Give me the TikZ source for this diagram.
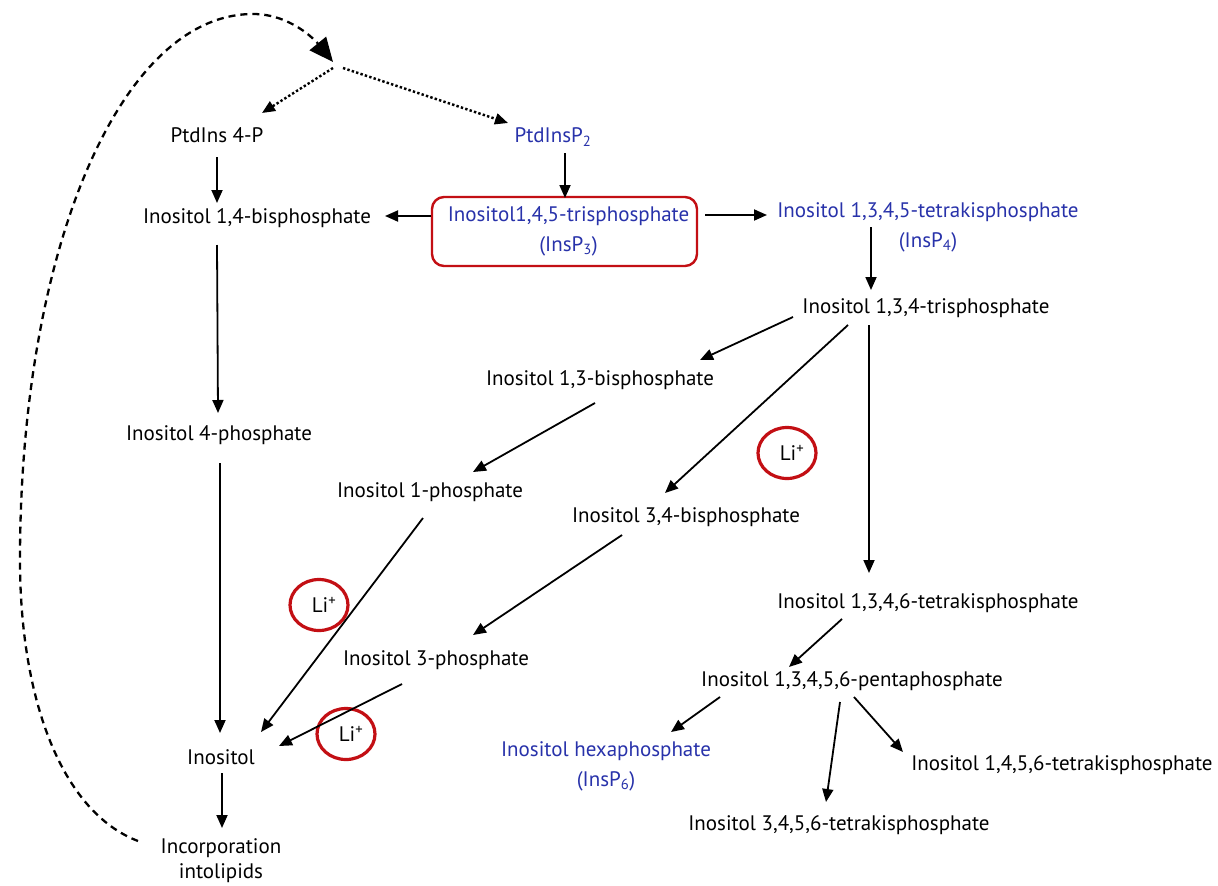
\documentclass[tikz,border=0pt]{standalone}
\usepackage{fontspec}
\setmainfont{PT Sans}
\usetikzlibrary{arrows.meta,shapes.geometric}
\definecolor{ib}{RGB}{40,50,170}
\definecolor{lr}{RGB}{195,15,20}
\newcommand\fsz{\fontsize{21}{30}\selectfont}
\tikzset{
  lbl/.style={inner sep=0pt, font=\fsz, text=black, align=center},
  blu/.style={lbl, text=ib},
  arr/.style={line width=1.8pt, -{Triangle[length=13pt,width=11pt]}},
  dotarr/.style={line width=2.4pt, dash pattern=on 2.4pt off 2.2pt, -{Triangle[length=13pt,width=11pt]}},
  dasharr/.style={line width=2.3pt, dash pattern=on 7pt off 5pt, -{Triangle[length=24pt,width=21pt]}},
  licirc/.style={ellipse, draw=lr, line width=3.2pt, minimum width=58pt, minimum height=51pt, inner sep=0pt, font=\fsz},
  ipbox/.style={draw=lr, line width=2.4pt, rounded corners=12pt, minimum width=265pt, minimum height=69pt, inner sep=0pt, font=\fsz, text=ib, align=center}
}
\begin{document}
\begin{tikzpicture}[x=1pt,y=-1pt]
\useasboundingbox (0,0) rectangle (1218,886);
\fill[white] (0,0) rectangle (1218,886);

% nodes
\node[lbl] (p4) at (217,135) {PtdIns 4-P};
\node[blu] (p2) at (553,137) {PtdInsP\textsubscript{2}};
\node[lbl] (b14) at (257,218) {Inositol 1,4-bisphosphate};
\node[ipbox] (ip3) at (564.5,231.5) {\hspace*{8pt}Inositol1,4,5-trisphosphate\\\hspace*{8pt}(InsP\textsubscript{3})};
\node[blu] (t1345) at (928,227) {Inositol 1,3,4,5-tetrakisphosphate\\(InsP\textsubscript{4})};
\node[lbl] (t134) at (926,308) {Inositol 1,3,4-trisphosphate};
\node[lbl] (b13) at (600,380) {Inositol 1,3-bisphosphate};
\node[lbl] (m4) at (219,435) {Inositol 4-phosphate};
\node[lbl] (m1) at (430,492) {Inositol 1-phosphate};
\node[lbl] (b34) at (686,517) {Inositol 3,4-bisphosphate};
\node[licirc] (li1) at (787,453) {\hspace*{10pt}Li\textsuperscript{+}};
\node[licirc] (li2) at (319,605) {\hspace*{10pt}Li\textsuperscript{+}};
\node[licirc] (li3) at (346,734) {\hspace*{10pt}Li\textsuperscript{+}};
\node[lbl] (t1346) at (928,603) {Inositol 1,3,4,6-tetrakisphosphate};
\node[lbl] (m3) at (436,660) {Inositol 3-phosphate};
\node[lbl] (penta) at (852,681) {Inositol 1,3,4,5,6-pentaphosphate};
\node[lbl] (ino) at (221,757) {Inositol};
\node[blu] (hexa) at (606,766) {Inositol hexaphosphate\\(InsP\textsubscript{6})};
\node[lbl] (t1456) at (1062,765) {Inositol 1,4,5,6-tetrakisphosphate};
\node[lbl] (t3456) at (839,825) {Inositol 3,4,5,6-tetrakisphosphate};
\node[lbl, font=\fontsize{21}{25}\selectfont] (inc) at (221,861) {Incorporation\\intolipids};
\coordinate (top) at (333,62);
\coordinate (jl) at (333,68);
\coordinate (jr) at (343,68);

% solid arrows
\draw[arr] ([shift={(0,22)}]p4.center) -- ([shift={(-40,-15)}]b14.center);
\draw[arr] ([shift={(12,16)}]p2.center) -- ([shift={(0.5,-33.5)}]ip3.center);
\draw[arr] ([shift={(-133.5,-15.5)}]ip3.center) -- ([shift={(128,-2)}]b14.center);
\draw[arr] ([shift={(140.5,-16.5)}]ip3.center) -- ([shift={(-161,-12)}]t1345.center);
\draw[arr] ([shift={(-57,0)}]t1345.center) -- ([shift={(-55,-18)}]t134.center);
\draw[arr] ([shift={(-133,9)}]t134.center) -- ([shift={(100,-20)}]b13.center);
\draw[arr] ([shift={(-78,17)}]t134.center) -- ([shift={(-21,-24)}]b34.center);
\draw[arr] ([shift={(-57,17)}]t134.center) -- ([shift={(-59,-30)}]t1346.center);
\draw[arr] ([shift={(-40,27)}]b14.center) -- ([shift={(-1,-22)}]m4.center);
\draw[arr] ([shift={(1,28)}]m4.center) -- ([shift={(-1,-24)}]ino.center);
\draw[arr] ([shift={(-5,23)}]b13.center) -- ([shift={(43,-20)}]m1.center);
\draw[arr] ([shift={(-7,26)}]m1.center) -- ([shift={(40,-25)}]ino.center);
\draw[arr] ([shift={(-64,18)}]b34.center) -- ([shift={(37,-25)}]m3.center);
\draw[arr] ([shift={(-34,24)}]m3.center) -- ([shift={(58,-11)}]ino.center);
\draw[arr] ([shift={(-86,16)}]t1346.center) -- ([shift={(-63,-14)}]penta.center);
\draw[arr] ([shift={(-132,16)}]penta.center) -- ([shift={(65,-34)}]hexa.center);
\draw[arr] ([shift={(-12,21)}]penta.center) -- ([shift={(-13,-23)}]t3456.center);
\draw[arr] ([shift={(2,16)}]penta.center) -- ([shift={(-159,-13)}]t1456.center);
\draw[arr] ([shift={(1,16)}]ino.center) -- ([shift={(1,-33)}]inc.center);

% dotted arrows
\draw[dotarr] (jl) -- ([shift={(45,-22)}]p4.center);
\draw[dotarr] (jr) -- ([shift={(-45,-14)}]p2.center);

% dashed recycling curve
\draw[dasharr] ([shift={(-83,-20)}]inc.center) .. controls (62,812) and (20,700) .. (20,560)
  .. controls (20,250) and (120,14) .. (253,14)
  .. controls (290,14) and (315,40) .. (top);
\end{tikzpicture}
\end{document}
